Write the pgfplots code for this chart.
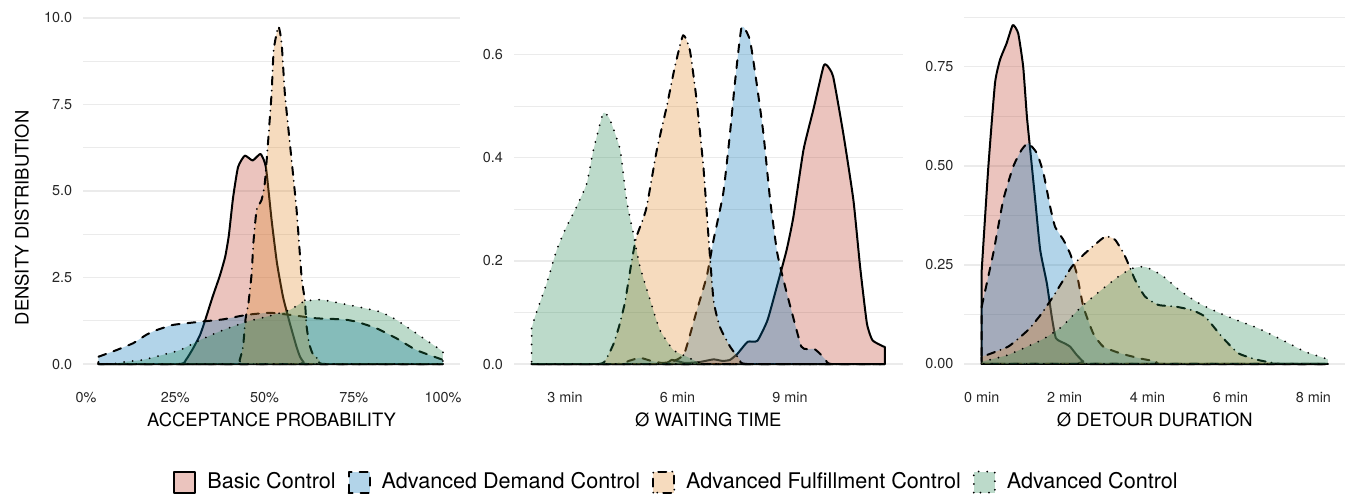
\documentclass[border=0pt]{standalone}
\usepackage{fontspec}
\setmainfont{TeX Gyre Heros}
\usepackage{pgfplots}
\pgfplotsset{compat=1.18}

% NEJM-style palette, filled at 30% opacity
\definecolor{cBasic}{HTML}{BC3C29}
\definecolor{cDemand}{HTML}{0072B5}
\definecolor{cFulfil}{HTML}{E18727}
\definecolor{cAdv}{HTML}{20854E}

\pgfplotsset{
  dens/.style={
    scale only axis, height=184.5pt, anchor=south west,
    axis line style={draw=none}, tick style={draw=none},
    major tick length=0pt, minor tick length=0pt,
    ymajorgrids, yminorgrids,
    major grid style={line width=0.8pt, color=black!8},
    minor grid style={line width=0.4pt, color=black!8},
    ticklabel style={font=\fontsize{7.2}{8.6}\selectfont, text=black!85},
    xticklabel style={yshift=-2pt},
    yticklabel style={xshift=-2pt},
    label style={font=\fontsize{9.2}{11}\selectfont},
    xlabel style={at={(axis description cs:0.5,0)}, anchor=center, yshift=-19.3pt},
    legend image code/.code={\draw[#1] (0pt,-5.25pt) rectangle (10.5pt,5.25pt);},
  },
  common/.style={draw=black, line width=1pt, line join=round, line cap=round,
    fill opacity=0.3, draw opacity=1, smooth, tension=0.3},
  basic/.style={common, fill=cBasic, solid},
  demand/.style={common, fill=cDemand, dash pattern=on 4pt off 4pt},
  fulfil/.style={common, fill=cFulfil, dash pattern=on 0pt off 3pt on 4pt off 3pt},
  adv/.style={common, fill=cAdv, dash pattern=on 0pt off 4.3pt},
}

\begin{document}
\begin{tikzpicture}
\path[use as bounding box] (0,0) rectangle (673.5pt,246.5pt);

% ---------------- acceptance probability ----------------
\begin{axis}[dens, at={(41.55pt,56pt)}, width=188.5pt,
  xmin=-0.8, xmax=104.8, ymin=-0.491, ymax=10.17,
  xtick={0,25,50,75,100}, xticklabels={0\%,25\%,50\%,75\%,100\%},
  ytick={0,2.5,5,7.5,10}, yticklabels={0.0,2.5,5.0,7.5,10.0},
  minor ytick={1.25,3.75,6.25,8.75},
  xlabel={ACCEPTANCE PROBABILITY},
  ylabel={DENSITY DISTRIBUTION},
  ylabel style={at={(axis description cs:-0.162,0.442)}, anchor=center},
]
\addplot[basic] coordinates {(3.5,0) (26,0) (28,0.12) (30,0.45) (32,0.85) (33.5,1.3) (35.5,1.95) (37.5,2.55) (39,3.1) (40,3.7) (41.2,4.8) (42.6,5.69) (44.5,6.02) (46.7,5.88) (48.9,6.07) (50.4,5.69) (52,4.16) (53.5,2.92) (55.2,1.94) (57.1,1.18) (59,0.49) (60,0.2) (61,0.05) (62,0) (100,0)} \closedcycle;
\addplot[demand] coordinates {(3.5,0.21) (8,0.38) (13.2,0.6) (17,0.85) (19.8,0.98) (24.4,1.13) (31.9,1.22) (38.4,1.29) (45,1.42) (51.5,1.48) (57.1,1.42) (64.6,1.32) (72,1.29) (75.8,1.22) (81.4,1.03) (87,0.74) (92.6,0.40) (100,0.12)} \closedcycle;
\addplot[fulfil] coordinates {(3.5,0) (42,0) (43,0.1) (44,0.5) (44.7,1.3) (45.5,1.75) (46.4,2.6) (46.9,3.5) (47.8,4.45) (49.2,4.74) (50.1,5.23) (51,6.4) (52,7.83) (52.6,9.08) (53.9,9.75) (54.8,9.28) (55.7,7.83) (57.1,6.39) (59,4.45) (60.4,2.51) (61.3,1.85) (61.8,1.1) (62.5,0.6) (63.5,0.3) (65.5,0.1) (67,0) (100,0)} \closedcycle;
\addplot[adv] coordinates {(3.5,0) (8,0.01) (11.4,0.07) (16,0.12) (21,0.25) (26.3,0.4) (31.9,0.69) (38.4,0.98) (45,1.22) (51.5,1.39) (57.1,1.56) (60.9,1.8) (63.7,1.85) (66.5,1.85) (75.8,1.66) (82.3,1.51) (87,1.27) (92.6,0.88) (100,0.36)} \closedcycle;
\end{axis}

% ---------------- waiting time ----------------
\begin{axis}[dens, at={(257pt,56pt)}, width=194.25pt,
  xmin=1.64, xmax=12.0, ymin=-0.0329, ymax=0.682,
  xtick={3,6,9}, xticklabels={3 min,6 min,9 min},
  ytick={0,0.2,0.4,0.6}, yticklabels={0.0,0.2,0.4,0.6},
  minor ytick={0.1,0.3,0.5},
  xlabel={Ø WAITING TIME},
  legend columns=4,
  legend style={at={(axis description cs:0.421,-0.274)}, anchor=center,
    draw=none, fill=none, font=\fontsize{10.8}{12}\selectfont,
    /tikz/every odd column/.append style={column sep=3.5pt},
    /tikz/every even column/.append style={column sep=4pt}},
]
\addplot[basic] coordinates {(2.11,0) (5.5,0) (5.85,0.008) (6.2,0.002) (6.6,0.004) (6.96,0.009) (7.2,0.006) (7.4,0.008) (7.6,0.02) (7.87,0.043) (8.13,0.045) (8.4,0.085) (8.66,0.153) (8.91,0.221) (9.09,0.285) (9.36,0.415) (9.62,0.492) (9.89,0.576) (9.98,0.579) (10.15,0.557) (10.42,0.447) (10.69,0.318) (10.87,0.188) (11.05,0.079) (11.2,0.046) (11.49,0.034) (11.53,0.033)} \closedcycle;
\addlegendentry{Basic Control}
\addplot[demand] coordinates {(2.11,0) (4.4,0) (4.7,0.006) (5.0,0.012) (5.3,0.006) (5.6,0.002) (5.9,0.006) (6.18,0.02) (6.5,0.1) (6.78,0.17) (6.96,0.24) (7.22,0.331) (7.4,0.447) (7.53,0.544) (7.71,0.653) (7.93,0.628) (8.11,0.544) (8.29,0.447) (8.47,0.318) (8.66,0.215) (8.87,0.15) (9.05,0.1) (9.3,0.034) (9.45,0.029) (9.65,0.029) (9.8,0.02) (9.95,0.008) (10.1,0) (11.53,0)} \closedcycle;
\addlegendentry{Advanced Demand Control}
\addplot[fulfil] coordinates {(2.11,0) (3.9,0) (4.1,0.01) (4.3,0.04) (4.45,0.075) (4.6,0.12) (4.78,0.2) (4.9,0.245) (5.05,0.275) (5.18,0.305) (5.45,0.415) (5.71,0.498) (5.93,0.576) (6.15,0.637) (6.33,0.608) (6.51,0.511) (6.69,0.382) (6.82,0.253) (6.96,0.124) (7.13,0.072) (7.4,0.034) (7.67,0.008) (7.9,0) (11.53,0)} \closedcycle;
\addlegendentry{Advanced Fulfillment Control}
\addplot[adv] coordinates {(2.11,0.069) (2.2,0.092) (2.51,0.156) (2.78,0.221) (3.04,0.266) (3.31,0.305) (3.58,0.35) (3.76,0.415) (4.02,0.486) (4.2,0.473) (4.47,0.415) (4.64,0.318) (4.82,0.253) (5.0,0.188) (5.27,0.124) (5.53,0.066) (5.89,0.027) (6.25,0.014) (6.6,0.002) (7,0) (11.53,0)} \closedcycle;
\addlegendentry{Advanced Control}
\end{axis}

% ---------------- detour duration ----------------
\begin{axis}[dens, at={(482.2pt,56pt)}, width=190.4pt,
  xmin=-0.4175, xmax=8.7675, ymin=-0.0429, ymax=0.888,
  xtick={0,2,4,6,8}, xticklabels={0 min,2 min,4 min,6 min,8 min},
  ytick={0,0.25,0.5,0.75}, yticklabels={0.00,0.25,0.50,0.75},
  minor ytick={0.125,0.375,0.625,0.875},
  xlabel={Ø DETOUR DURATION},
]
\addplot[basic] coordinates {(0,0.237) (0.16,0.498) (0.32,0.708) (0.44,0.767) (0.6,0.809) (0.75,0.855) (0.88,0.834) (1.0,0.75) (1.09,0.624) (1.17,0.54) (1.29,0.414) (1.41,0.288) (1.57,0.204) (1.69,0.119) (1.79,0.065) (2.0,0.052) (2.13,0.044) (2.29,0.023) (2.45,0.006) (2.6,0) (8.35,0)} \closedcycle;
\addplot[demand] coordinates {(0,0.145) (0.28,0.28) (0.52,0.414) (0.76,0.498) (0.96,0.54) (1.12,0.557) (1.33,0.532) (1.49,0.481) (1.65,0.397) (1.77,0.346) (1.97,0.313) (2.13,0.279) (2.29,0.229) (2.45,0.145) (2.69,0.077) (2.93,0.044) (3.34,0.027) (3.82,0.014) (4.22,0.006) (4.4,0) (8.35,0)} \closedcycle;
\addplot[fulfil] coordinates {(0,0.018) (0.64,0.044) (1.12,0.086) (1.45,0.128) (1.77,0.178) (2.17,0.245) (2.49,0.279) (2.97,0.321) (3.22,0.313) (3.46,0.271) (3.7,0.212) (3.94,0.170) (4.26,0.149) (4.66,0.145) (5.07,0.136) (5.39,0.119) (5.79,0.069) (6.19,0.027) (6.67,0.010) (7.07,0.002) (7.3,0) (8.35,0)} \closedcycle;
\addplot[adv] coordinates {(0,0.006) (0.64,0.023) (1.45,0.061) (1.93,0.094) (2.41,0.145) (2.89,0.187) (3.29,0.220) (3.62,0.241) (3.94,0.245) (4.34,0.224) (4.82,0.182) (5.31,0.149) (5.95,0.119) (6.67,0.090) (7.24,0.061) (7.8,0.031) (8.35,0.012)} \closedcycle;
\end{axis}
\end{tikzpicture}
\end{document}
